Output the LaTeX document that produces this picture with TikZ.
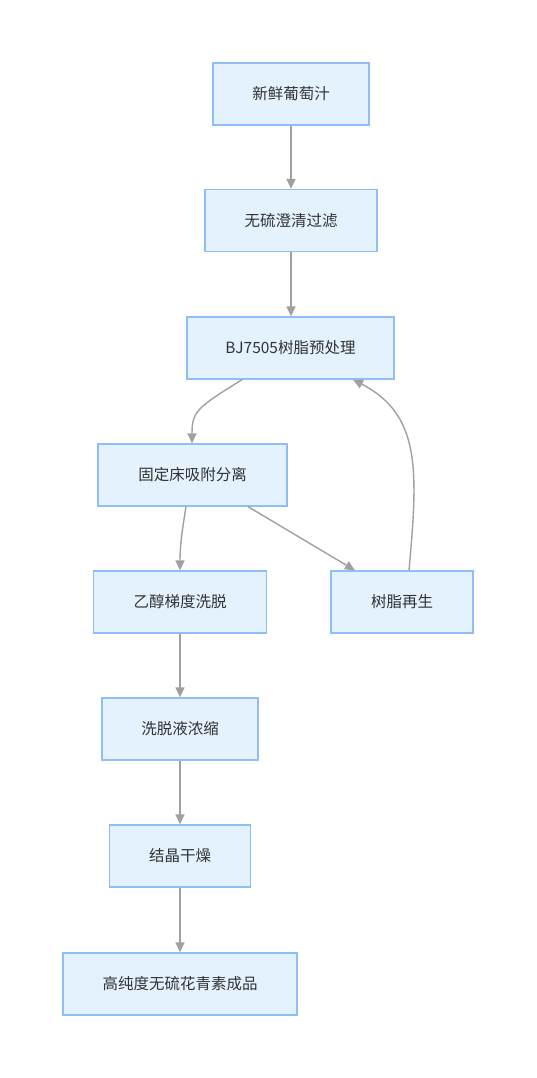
\documentclass[tikz,border=0pt]{standalone}
\usepackage{fontspec}
\setmainfont{Noto Sans CJK SC}
\usetikzlibrary{arrows.meta,positioning,calc}
\definecolor{boxfill}{HTML}{E3F2FD}
\definecolor{boxline}{HTML}{90BEF9}
\definecolor{edgecol}{HTML}{A0A0A0}
\definecolor{txt}{HTML}{333333}
\begin{document}
\begin{tikzpicture}[x=1pt,y=-1pt,
  procbox/.style={draw=boxline,fill=boxfill,line width=1.3pt,text=txt,
    font=\fontsize{15.5}{18}\selectfont,minimum height=62pt,inner sep=0pt},
  flow/.style={draw=edgecol,line width=1.4pt,-{Triangle[length=10pt,width=9pt]}}]
\useasboundingbox (0,0) rectangle (537,1078);
\node[procbox,minimum width=156pt] (n1) at (291,94) {新鲜葡萄汁};
\node[procbox,minimum width=172pt] (n2) at (291,220.5) {无硫澄清过滤};
\node[procbox,minimum width=207pt] (n3) at (290.5,348) {BJ7505树脂预处理};
\node[procbox,minimum width=189pt] (n4) at (192.5,475) {固定床吸附分离};
\node[procbox,minimum width=173pt] (n5) at (180,602) {乙醇梯度洗脱};
\node[procbox,minimum width=142pt] (n6) at (402,602) {树脂再生};
\node[procbox,minimum width=156pt] (n7) at (180,729) {洗脱液浓缩};
\node[procbox,minimum width=141pt] (n8) at (180,856) {结晶干燥};
\node[procbox,minimum width=234pt] (n9) at (180,984) {高纯度无硫花青素成品};
\draw[flow] (n1.south) -- (n2.north);
\draw[flow] (n2.south) -- (n2.south |- n3.north);
\draw[flow] ([xshift=-48.5pt]n3.south) .. controls +(-45,28) and +(0,-32) .. ([xshift=-0.5pt]n4.north);
\draw[flow] ([xshift=-6.5pt]n4.south) .. controls +(-4,25) and +(0,-25) .. (n5.north);
\draw[flow] ([xshift=55.5pt]n4.south) -- ([xshift=-47pt]n6.north);
\draw[flow] ([xshift=7pt]n6.north) .. controls +(9,-100) and +(68,35) .. ([xshift=62.5pt]n3.south);
\draw[flow] (n5.south) -- (n7.north);
\draw[flow] (n7.south) -- (n8.north);
\draw[flow] (n8.south) -- (n9.north);
\end{tikzpicture}
\end{document}
